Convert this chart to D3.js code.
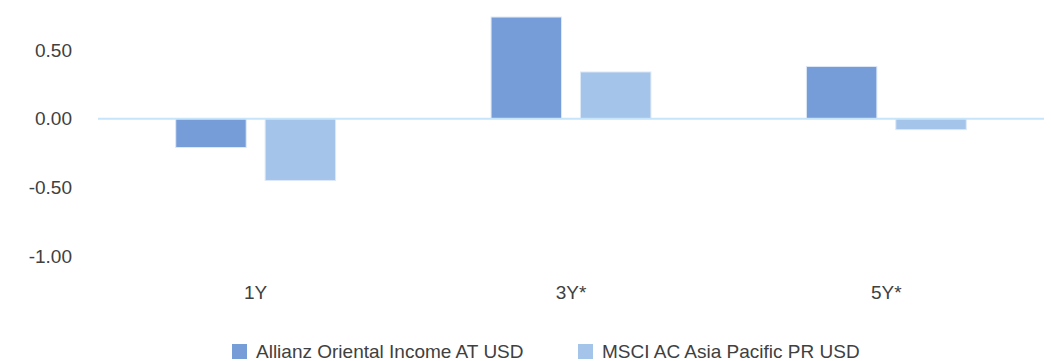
<!DOCTYPE html>
<html>
<head>
<meta charset="utf-8">
<script src="https://cdn.jsdelivr.net/npm/d3@7"></script>
<style>
  html, body { margin: 0; padding: 0; background: #fff; }
  svg { display: block; }
  text { font-family: "Liberation Sans", Arial, sans-serif; fill: #404040; }
</style>
</head>
<body>
<svg id="chart" width="1051" height="361"></svg>
<script>
// Periods and series
const periods = ["1Y", "3Y*", "5Y*"];
const seriesNames = ["Allianz Oriental Income AT USD", "MSCI AC Asia Pacific PR USD"];
const allianzValues = [-0.21, 0.74, 0.38];
const msciValues = [-0.45, 0.34, -0.08];
const yTicks = [-1.0, -0.5, 0.0, 0.5];
const seriesColors = ["#769dd8", "#a5c4e9"];

const svg = d3.select("#chart");

const x0 = d3.scaleBand().domain(periods).range([98, 1044]).padding(0);
const bw = x0.bandwidth();
const x1 = d3.scaleBand().domain(seriesNames)
  .range([bw * 0.2465, bw * 0.7535]).paddingInner(0.212).paddingOuter(0);
const y = d3.scaleLinear().domain([-1.0, 0.5]).range([256, 50]);
const color = d3.scaleOrdinal().domain(seriesNames).range(seriesColors);

const rows = periods.map((p, i) => ({
  period: p,
  values: [
    { name: seriesNames[0], value: allianzValues[i] },
    { name: seriesNames[1], value: msciValues[i] }
  ]
}));

// Y axis labels (no axis line, no ticks)
const yAxis = d3.axisLeft(y).tickValues(yTicks).tickSize(0).tickPadding(0)
  .tickFormat(d => d < 0 ? "-" + d3.format(".2f")(-d) : d3.format(".2f")(d));
const yG = svg.append("g").attr("transform", "translate(72,0)").call(yAxis);
yG.select(".domain").remove();
yG.selectAll("text")
  .attr("font-size", 19)
  .attr("font-family", "Liberation Sans, Arial, sans-serif")
  .attr("fill", "#404040");

// Bars
const groups = svg.append("g").selectAll("g")
  .data(rows).join("g")
  .attr("transform", d => `translate(${x0(d.period)},0)`);

groups.selectAll("rect")
  .data(d => d.values).join("rect")
  .attr("x", d => x1(d.name))
  .attr("width", x1.bandwidth())
  .attr("y", d => y(Math.max(0, d.value)))
  .attr("height", d => Math.abs(y(d.value) - y(0)))
  .attr("fill", d => color(d.name))
  .attr("stroke", "#dce8f7")
  .attr("stroke-width", 1);

// Zero line
svg.append("line")
  .attr("x1", 98).attr("x2", 1044)
  .attr("y1", y(0)).attr("y2", y(0))
  .attr("stroke", "#c6e4fa").attr("stroke-width", 2);

// Category labels
const xAxis = d3.axisBottom(x0).tickSize(0).tickPadding(0);
const xG = svg.append("g").attr("transform", "translate(0,285)").call(xAxis);
xG.select(".domain").remove();
xG.selectAll("text")
  .attr("font-size", 19)
  .attr("font-family", "Liberation Sans, Arial, sans-serif")
  .attr("fill", "#404040")
  .attr("dy", "0.71em");

// Legend
const legendX = [232, 578];
const legend = svg.append("g").selectAll("g")
  .data(seriesNames).join("g")
  .attr("transform", (d, i) => `translate(${legendX[i]},344)`);
legend.append("rect")
  .attr("width", 15).attr("height", 15)
  .attr("fill", d => color(d));
legend.append("text")
  .attr("x", 24).attr("y", 7.5)
  .attr("dy", "0.35em")
  .attr("font-size", 19)
  .text(d => d);
</script>
</body>
</html>
